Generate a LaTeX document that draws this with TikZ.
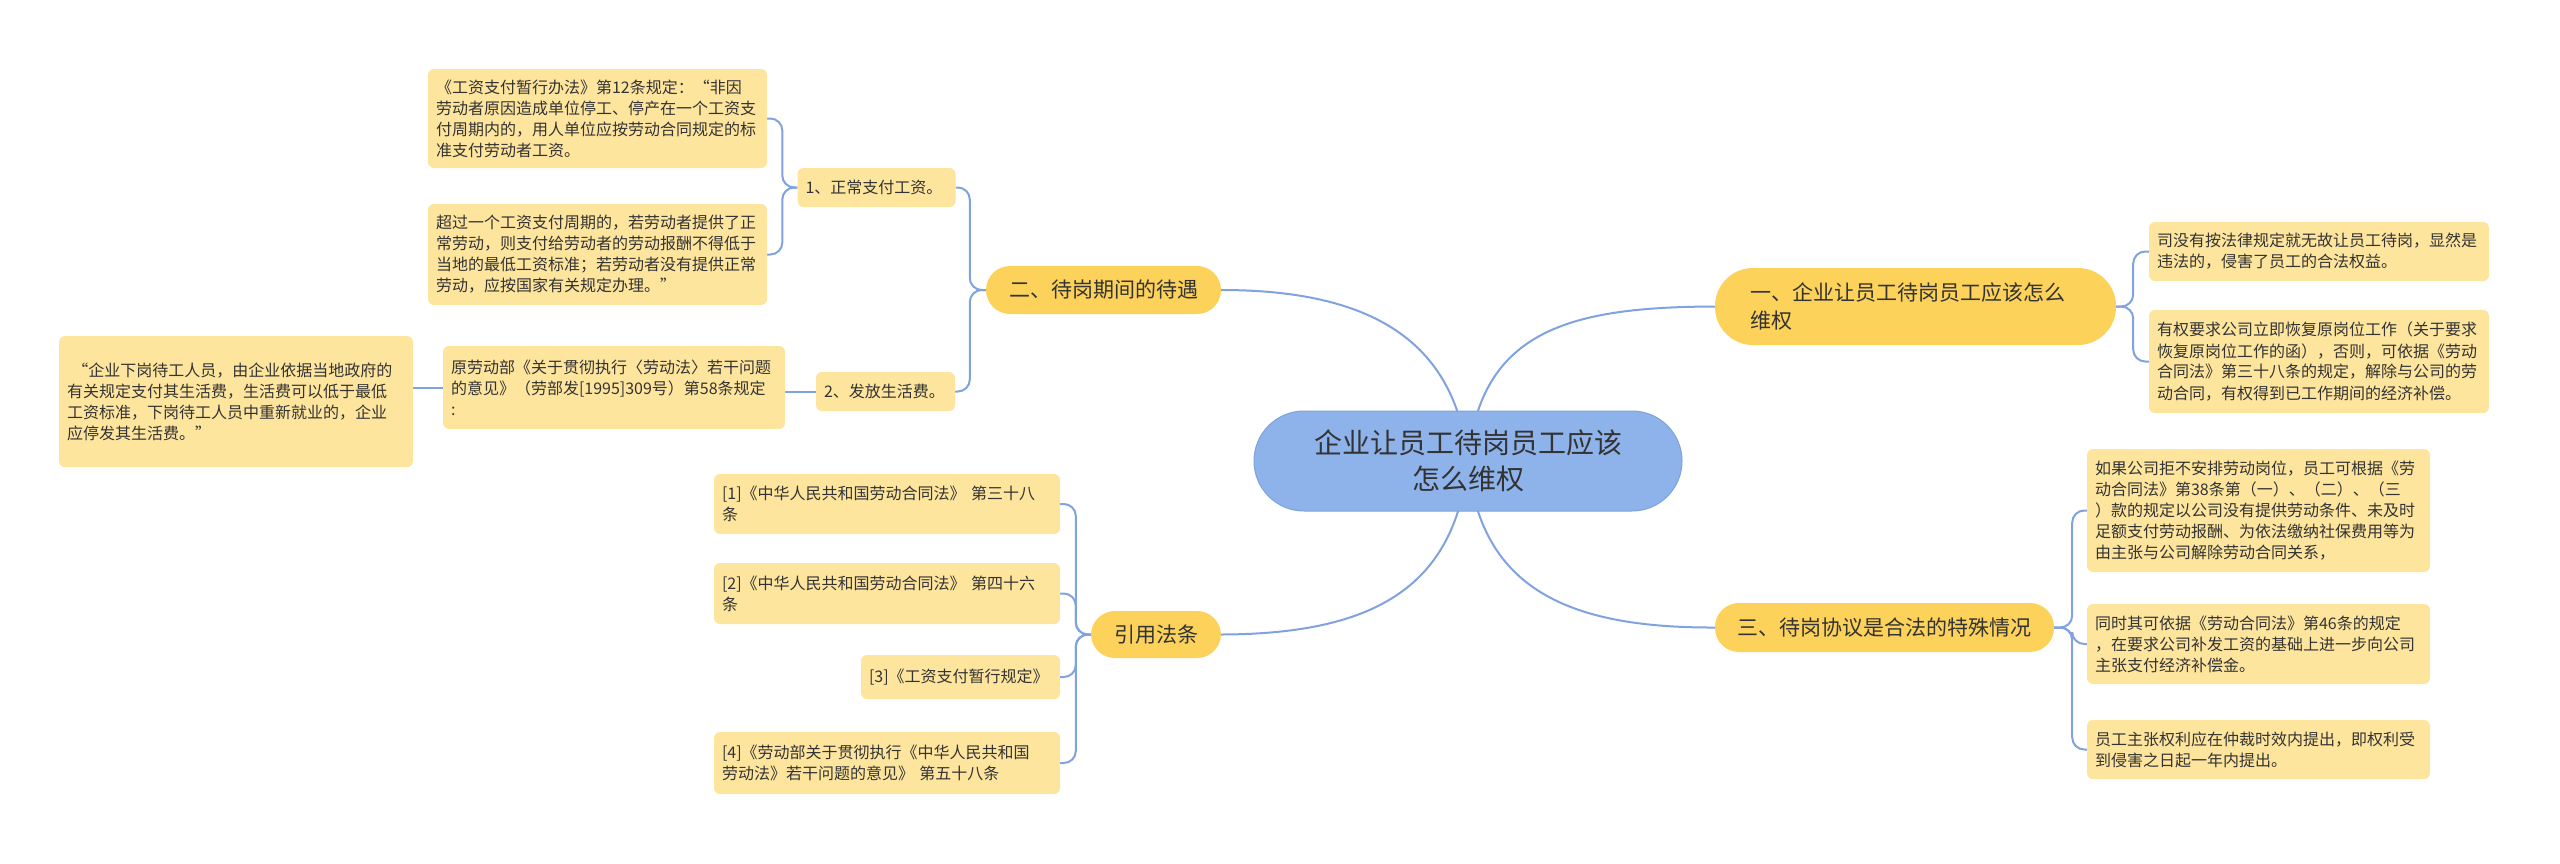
\documentclass[tikz,border=0pt]{standalone}
\usepackage{fontspec}
\setmainfont{Noto Sans CJK SC}
\usetikzlibrary{calc}
\definecolor{cblue}{HTML}{8EB2EA}
\definecolor{cblueb}{HTML}{7EA2DE}
\definecolor{cmain}{HTML}{FCD25A}
\definecolor{cleaf}{HTML}{FEE59E}
\definecolor{cline}{HTML}{80A2DE}
\definecolor{ctext}{HTML}{333333}
\pgfdeclarelayer{bg}
\pgfsetlayers{bg,main}
\begin{document}
\begin{tikzpicture}[x=1pt,y=-1pt,
  leaf/.style={fill=cleaf, rounded corners=6pt, font=\fontsize{16}{21}\selectfont, text=ctext, align=left, inner ysep=2pt, inner xsep=8pt},
  mainb/.style={fill=cmain, font=\fontsize{21}{28}\selectfont, text=ctext, inner sep=0pt},
  conn/.style={draw=cline, line width=2pt},
  sub/.style={draw=cline, line width=2pt, rounded corners=12pt}]
\useasboundingbox (0,0) rectangle (2560,863);
% central
\node[fill=cblue, draw=cblueb, line width=1pt, rounded corners=50pt, minimum width=428pt, minimum height=100pt, align=center, font=\fontsize{28}{36}\selectfont, text=ctext, inner sep=0pt] (ctr) at (1468,461) {企业让员工待岗员工应该\\怎么维权};
% main branches
\node[mainb, rounded corners=24pt, minimum width=235pt, minimum height=48pt] (two) at (1103.5,290) {二、待岗期间的待遇};
\node[mainb, rounded corners=38pt, minimum height=77pt, text width=331pt, inner xsep=35pt, align=left] (one) at (1915.5,306.5) {一、企业让员工待岗员工应该怎么\\维权};
\node[mainb, rounded corners=24pt, minimum width=339pt, minimum height=49pt] (three) at (1884.5,627.5) {三、待岗协议是合法的特殊情况};
\node[mainb, rounded corners=24pt, minimum width=130pt, minimum height=47pt] (cite) at (1156,634.5) {引用法条};
% left upper
\node[leaf, text width=142pt, minimum height=39pt] (n1) at (876.5,187.5) {1、正常支付工资。};
\node[leaf, text width=323pt, minimum height=99pt] (A) at (597.5,118.5) {《工资支付暂行办法》第12条规定：“非因\\劳动者原因造成单位停工、停产在一个工资支\\付周期内的，用人单位应按劳动合同规定的标\\准支付劳动者工资。};
\node[leaf, text width=323pt, minimum height=101pt] (B) at (597.5,254.5) {超过一个工资支付周期的，若劳动者提供了正\\常劳动，则支付给劳动者的劳动报酬不得低于\\当地的最低工资标准；若劳动者没有提供正常\\劳动，应按国家有关规定办理。”};
\node[leaf, text width=123pt, minimum height=39pt] (n2) at (885.5,391.5) {2、发放生活费。};
\node[leaf, text width=326pt, minimum height=83pt] (law) at (614,387.5) {原劳动部《关于贯彻执行〈劳动法〉若干问题\\的意见》（劳部发[1995]309号）第58条规定\\:};
\node[leaf, text width=338pt, minimum height=131pt] (quote) at (236,401.5) {~“企业下岗待工人员，由企业依据当地政府的\\有关规定支付其生活费，生活费可以低于最低\\工资标准，下岗待工人员中重新就业的，企业\\应停发其生活费。”};
% citations
\node[leaf, text width=330pt, minimum height=60pt] (c1) at (887,504) {[1]《中华人民共和国劳动合同法》 第三十八\\条};
\node[leaf, text width=330pt, minimum height=61pt] (c2) at (887,593.5) {[2]《中华人民共和国劳动合同法》 第四十六\\条};
\node[leaf, text width=183pt, minimum height=44pt] (c3) at (960.5,677) {[3]《工资支付暂行规定》};
\node[leaf, text width=330pt, minimum height=62pt] (c4) at (887,763) {[4]《劳动部关于贯彻执行《中华人民共和国\\劳动法》若干问题的意见》 第五十八条};
% right upper
\node[leaf, text width=324pt, minimum height=59pt] (r1) at (2319,251.5) {司没有按法律规定就无故让员工待岗，显然是\\违法的，侵害了员工的合法权益。};
\node[leaf, text width=324pt, minimum height=103pt] (r2) at (2319,361.5) {有权要求公司立即恢复原岗位工作（关于要求\\恢复原岗位工作的函），否则，可依据《劳动\\合同法》第三十八条的规定，解除与公司的劳\\动合同，有权得到已工作期间的经济补偿。};
% right lower
\node[leaf, text width=327pt, minimum height=123pt] (s1) at (2258.5,510.5) {如果公司拒不安排劳动岗位，员工可根据《劳\\动合同法》第38条第（一）、（二）、（三\\）款的规定以公司没有提供劳动条件、未及时\\足额支付劳动报酬、为依法缴纳社保费用等为\\由主张与公司解除劳动合同关系，};
\node[leaf, text width=327pt, minimum height=80pt] (s2) at (2258.5,644) {同时其可依据《劳动合同法》第46条的规定\\，在要求公司补发工资的基础上进一步向公司\\主张支付经济补偿金。};
\node[leaf, text width=327pt, minimum height=59pt] (s3) at (2258.5,749.5) {员工主张权利应在仲裁时效内提出，即权利受\\到侵害之日起一年内提出。};
% connectors
\begin{pgfonlayer}{bg}
\draw[conn] (ctr.center) .. controls (1455,340) and (1370,290) .. (two.east);
\draw[conn] (ctr.center) .. controls (1480,330) and (1570,307) .. (one.west);
\draw[conn] (ctr.center) .. controls (1480,590) and (1570,628) .. (three.west);
\draw[conn] (ctr.center) .. controls (1455,590) and (1370,634) .. (cite.east);
\draw[sub] (two.west) -- ++(-16,0) |- (n1.east);
\draw[sub] (two.west) -- ++(-16,0) |- (n2.east);
\draw[sub] (n1.west) -- ++(-15,0) |- (A.east);
\draw[sub] (n1.west) -- ++(-15,0) |- (B.east);
\draw[conn] (n2.west) -- (n2.west -| law.east);
\draw[conn] (law.west) -- (law.west -| quote.east);
\draw[sub] (cite.west) -- ++(-15,0) |- (c1.east);
\draw[sub] (cite.west) -- ++(-15,0) |- (c2.east);
\draw[sub] (cite.west) -- ++(-15,0) |- (c3.east);
\draw[sub] (cite.west) -- ++(-15,0) |- (c4.east);
\draw[sub] (one.east) -- ++(17,0) |- (r1.west);
\draw[sub] (one.east) -- ++(17,0) |- (r2.west);
\draw[sub] (three.east) -- ++(18,0) |- (s1.west);
\draw[sub] (three.east) -- ++(18,0) |- (s2.west);
\draw[sub] (three.east) -- ++(18,0) |- (s3.west);
\end{pgfonlayer}
\end{tikzpicture}
\end{document}
